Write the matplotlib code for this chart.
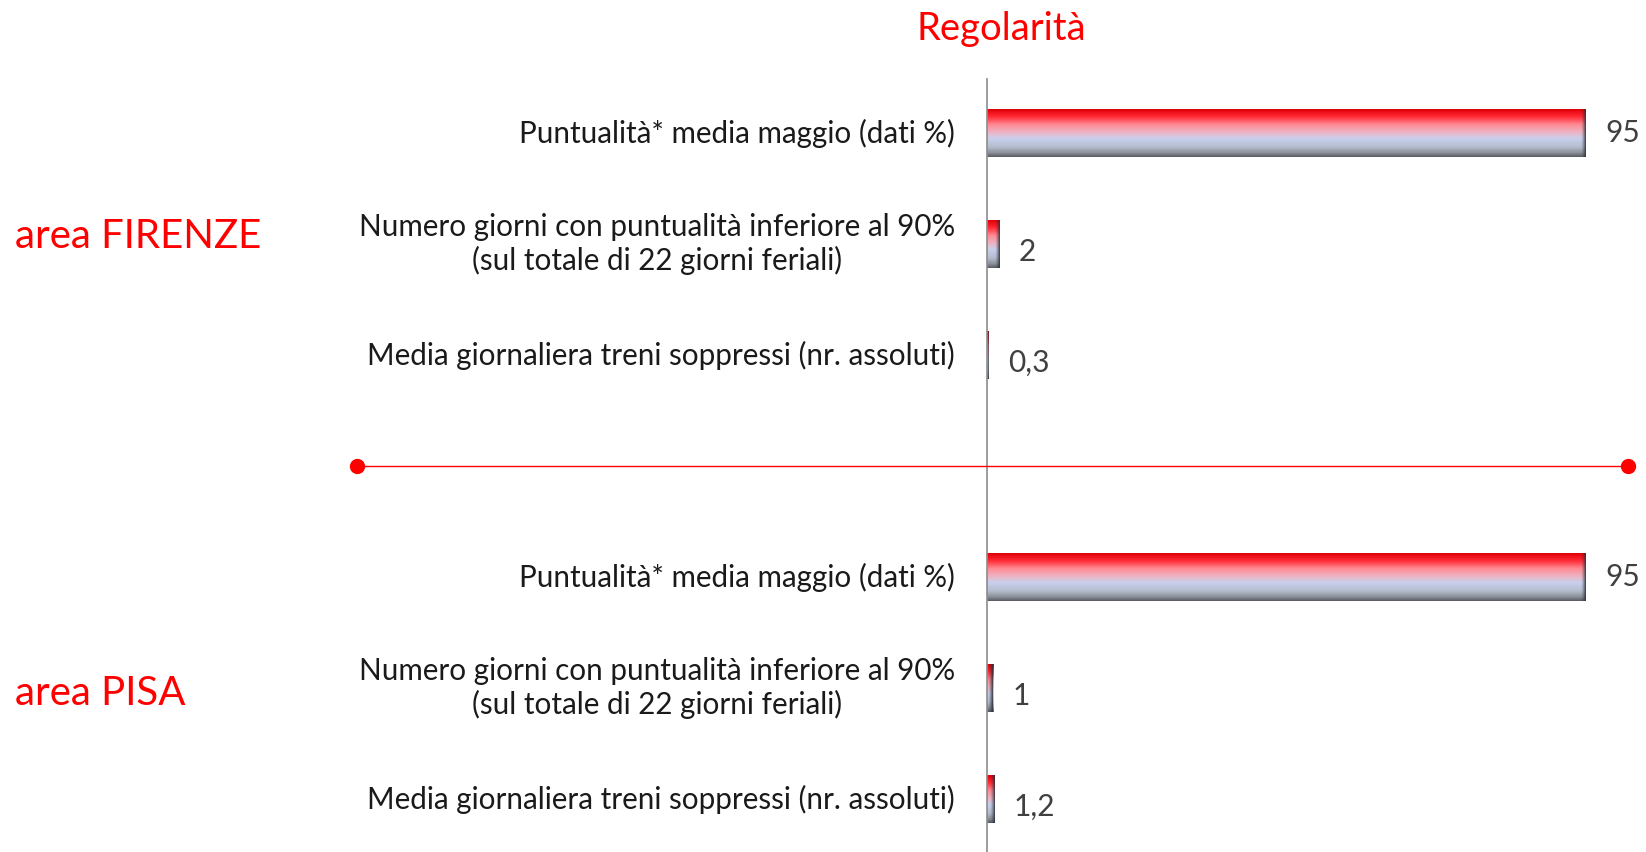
import numpy as np
import matplotlib
matplotlib.use("Agg")
import matplotlib.pyplot as plt
from matplotlib.colors import LinearSegmentedColormap

plt.rcParams['font.family'] = ['Lato', 'DejaVu Sans']

# data
title = "Regolarità"
areas = ["area FIRENZE", "area PISA"]
labels = [
    "Puntualità* media maggio (dati %)",
    "Numero giorni con puntualità inferiore al 90%\n(sul totale di 22 giorni feriali)",
    "Media giornaliera treni soppressi (nr. assoluti)",
]
firenze_values = [95, 2, 0.3]
pisa_values = [95, 1, 1.2]
firenze_text = ["95", "2", "0,3"]
pisa_text = ["95", "1", "1,2"]

RED = "#FF0000"
TXT = "#1A1A1A"
VAL = "#404040"

# bar face: red on top, pink, lavender, grey at the bottom
bar_cmap = LinearSegmentedColormap.from_list(
    "bevel", [(0.0, "#E00008"), (0.15, "#FF2A35"), (0.32, "#FF8A94"),
              (0.5, "#EAB8C8"), (0.62, "#C8D0EE"), (0.8, "#B4BCCC"),
              (0.92, "#8A9098"), (1.0, "#5A5E64")])

fig = plt.figure(figsize=(16.46, 8.52), dpi=100)
ax = fig.add_axes([0, 0, 1, 1])
px_per_unit = 6.305
ax.set_xlim(-987 / px_per_unit, (1646 - 987) / px_per_unit)
row_px = 111
ax.set_ylim((852 - 133) / row_px, -133 / row_px)
ax.axis("off")

bar_h = 0.43
grad = np.linspace(0, 1, 64).reshape(-1, 1)


def draw_bar(y, v):
    ax.imshow(grad, cmap=bar_cmap, aspect="auto", interpolation="bilinear",
              extent=[0, v, y + bar_h / 2, y - bar_h / 2], zorder=2)
    # dark bevel at the right end
    edge = min(v, 5 / px_per_unit)
    shade = np.zeros((1, 32, 4))
    shade[..., :3] = [0.16, 0.18, 0.22]
    shade[..., 3] = np.linspace(0, 0.95, 32) ** 1.5
    ax.imshow(shade, aspect="auto", interpolation="bilinear",
              extent=[v - edge, v, y + bar_h / 2, y - bar_h / 2], zorder=3)


groups = [(firenze_values, firenze_text, 0, -0.07),
          (pisa_values, pisa_text, 4, 0.05)]
for (vals, txts, start, area_dy), area in zip(groups, areas):
    for i, (lab, v, t) in enumerate(zip(labels, vals, txts)):
        y = start + i
        draw_bar(y, v)
        ax.text(-32 / px_per_unit, y, lab, ha="right", va="center",
                multialignment="center", fontsize=21.3, color=TXT,
                linespacing=1.2)
        dy = 0 if v > 50 else 0.07
        ax.text(v + 19 / px_per_unit, y + dy, t, ha="left", va="center",
                fontsize=21.5, color=VAL)
    ax.text(15 / 1646, start + 1 + area_dy, area,
            transform=ax.get_yaxis_transform(),
            ha="left", va="center", fontsize=29, color=RED)

# vertical axis line
ax.plot([0, 0], [-0.49, 6.6], color="#8C8C8C", lw=1.2, zorder=4)

# separator between the two areas
trans = ax.get_yaxis_transform()
ax.plot([357 / 1646, 1628 / 1646], [3, 3], color=RED, lw=1, transform=trans,
        marker="o", markersize=10, zorder=4)

ax.text(0.5 * (987 + 1016) / 1646, 0.966, title, transform=ax.transAxes,
        ha="center", va="center", fontsize=27.5, color=RED)

fig.savefig("out.png", dpi=100)
